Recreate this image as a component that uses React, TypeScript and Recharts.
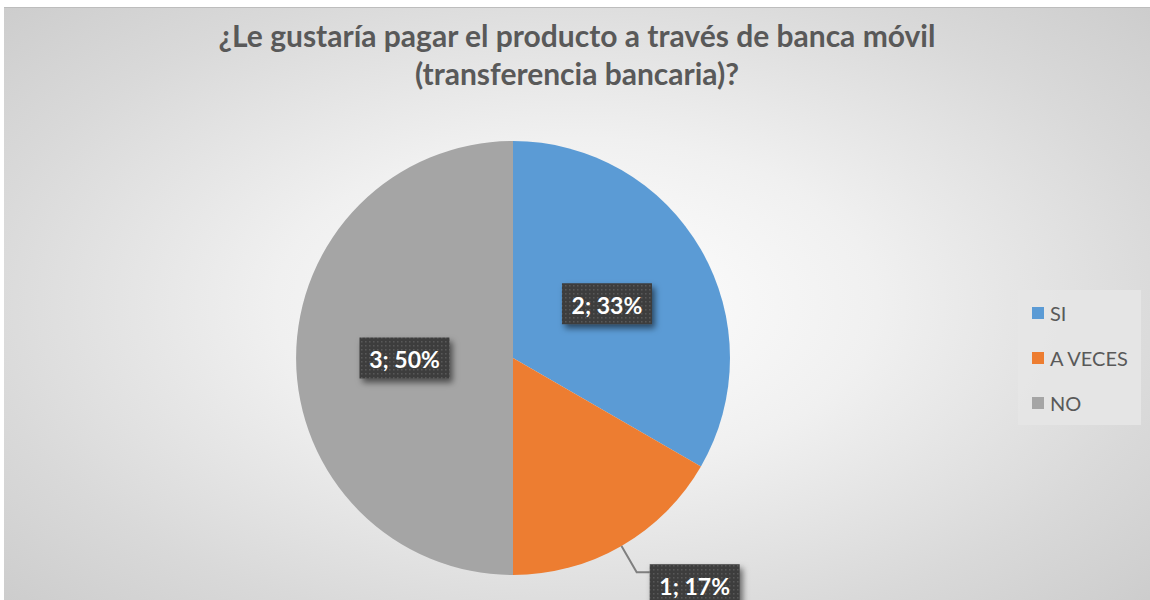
import React from 'react';
import { PieChart, Pie, Cell, Legend } from 'recharts';

const categories = ['SI', 'A VECES', 'NO'];
const counts = [2, 1, 3];
const percents = [33, 17, 50];
const colors = ['#5B9BD5', '#ED7D31', '#A5A5A5'];

const data = categories.map((name, i) => ({ name, value: counts[i], pct: percents[i] }));

const RAD = Math.PI / 180;
const BOX_W = 90;
const BOX_H = 41;

const renderLabel = (props: any) => {
  const { cx, cy, midAngle, outerRadius, index } = props;
  const d = data[index];
  const text = `${d.value}; ${d.pct}%`;
  const cos = Math.cos(-midAngle * RAD);
  const sin = Math.sin(-midAngle * RAD);
  let bx: number;
  let by: number;
  let leader: React.ReactNode = null;
  if (d.pct < 25) {
    // small slice: label outside with leader line
    const sx = cx + outerRadius * cos;
    const sy = cy + outerRadius * sin;
    const mx = cx + outerRadius * 1.14 * cos;
    const my = cy + outerRadius * 1.14 * sin;
    const ex = mx + 13;
    leader = <polyline points={`${sx},${sy} ${mx},${my} ${ex},${my}`} fill="none" stroke="#7f7f7f" strokeWidth={2} />;
    bx = ex;
    by = my - 8;
  } else {
    const r = outerRadius * 0.5;
    bx = cx + r * cos - BOX_W / 2;
    by = cy + r * sin - BOX_H / 2;
  }
  return (
    <g key={`lbl-${index}`}>
      {leader}
      <rect x={bx} y={by} width={BOX_W} height={BOX_H} fill="url(#dots)" filter="url(#shadow)" />
      <text
        x={bx + BOX_W / 2}
        y={by + BOX_H / 2 + 1}
        textAnchor="middle"
        dominantBaseline="central"
        fill="#ffffff"
        fontFamily="Lato, 'Open Sans', sans-serif"
        fontWeight={700}
        fontSize={23}
      >
        {text}
      </text>
    </g>
  );
};

const renderLegend = () => (
  <div
    style={{
      width: 123,
      height: 135,
      background: 'rgba(230,230,230,0.9)',
      boxSizing: 'border-box',
      paddingTop: 0,
      paddingLeft: 14,
    }}
  >
    {categories.map((c, i) => (
      <div key={c} style={{ display: 'flex', alignItems: 'center', height: 45 }}>
        <span style={{ width: 12, height: 12, background: colors[i], marginRight: 6 }} />
        <span style={{ fontFamily: "Lato, 'Open Sans', sans-serif", fontSize: 20, color: '#595959' }}>{c}</span>
      </div>
    ))}
  </div>
);

export default function App() {
  return (
    <div
      style={{
        position: 'absolute',
        left: 4,
        top: 7,
        width: 1146,
        height: 593,
        overflow: 'hidden',
        background: 'radial-gradient(ellipse 75% 80% at 50% 50%, #ffffff 0%, #f0f0f0 35%, #d9d9d9 70%, #c8c8c8 100%)',
        borderTop: '1px solid #bdbdbd',
        boxSizing: 'border-box',
      }}
    >
      <div
        style={{
          position: 'absolute',
          top: 8,
          left: 0,
          width: 1146,
          textAlign: 'center',
          fontFamily: "Lato, 'Open Sans', sans-serif",
          fontWeight: 700,
          fontSize: 30,
          lineHeight: '38px',
          color: '#595959',
        }}
      >
        ¿Le gustaría pagar el producto a través de banca móvil
        <br />
        (transferencia bancaria)?
      </div>
      <PieChart
        width={1146}
        height={593}
        margin={{ top: 0, right: 0, bottom: 0, left: 0 }}
        style={{ position: 'absolute', left: 0, top: 0 }}
      >
        <defs>
          <pattern id="dots" width="4" height="4" patternUnits="userSpaceOnUse">
            <rect width="4" height="4" fill="#3d3d3d" />
            <rect x="1" y="1" width="1.5" height="1.5" fill="#595959" />
          </pattern>
          <filter id="shadow" x="-20%" y="-20%" width="150%" height="170%">
            <feDropShadow dx="3" dy="4" stdDeviation="3" floodColor="#000000" floodOpacity="0.55" />
          </filter>
        </defs>
        <Pie
          data={data}
          dataKey="value"
          nameKey="name"
          cx={509}
          cy={350}
          outerRadius={217}
          startAngle={90}
          endAngle={-270}
          stroke="none"
          label={renderLabel}
          labelLine={false}
          isAnimationActive={false}
        >
          {data.map((d, i) => (
            <Cell key={d.name} fill={colors[i]} />
          ))}
        </Pie>
        <Legend
          layout="vertical"
          align="right"
          verticalAlign="top"
          content={renderLegend}
          wrapperStyle={{ position: 'absolute', left: 1014, top: 282, width: 123 }}
        />
      </PieChart>
    </div>
  );
}
